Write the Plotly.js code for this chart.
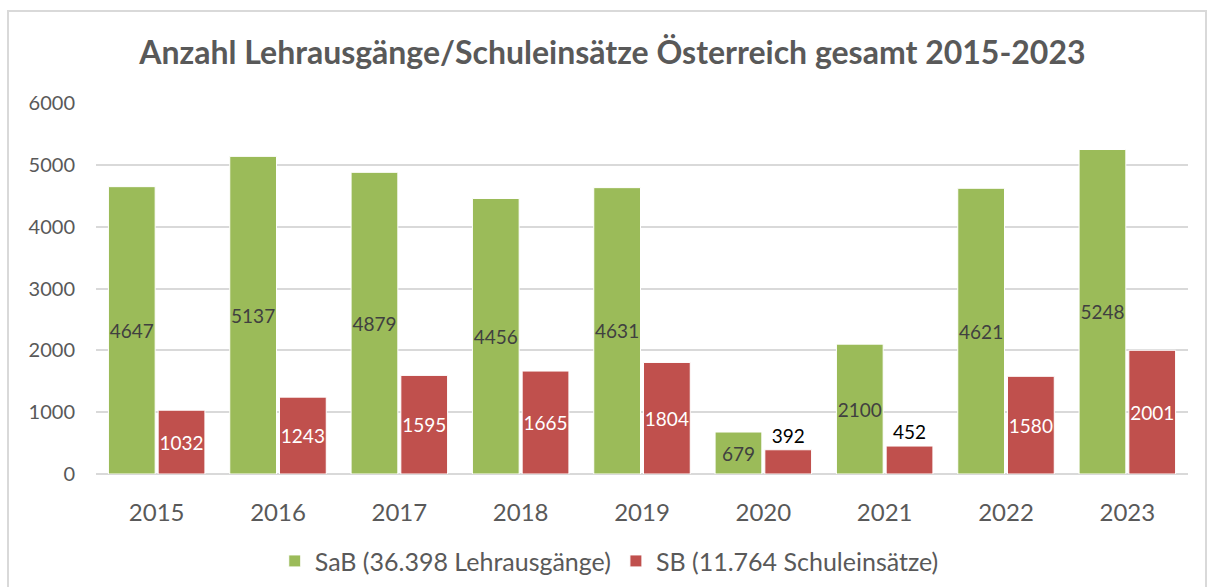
<!DOCTYPE html>
<html>
<head>
<meta charset="utf-8">
<script src="https://cdn.plot.ly/plotly-3.0.1.min.js"></script>
<style>
html,body{margin:0;padding:0;background:#fff;}
#wrap{position:relative;width:1208px;height:587px;}
#chart{position:absolute;left:0;top:0;width:1208px;height:587px;}
#frame{position:absolute;left:7px;top:10px;width:1200px;height:590px;border:2px solid #d9d9d9;box-sizing:border-box;pointer-events:none;}
</style>
</head>
<body>
<div id="wrap"><div id="chart"></div><div id="frame"></div></div>
<script>
const years = ['2015','2016','2017','2018','2019','2020','2021','2022','2023'];
const sab = [4647,5137,4879,4456,4631,679,2100,4621,5248];
const sb = [1032,1243,1595,1665,1804,392,452,1580,2001];
const sabName = 'SaB (36.398 Lehrausgänge)';
const sbName = 'SB (11.764 Schuleinsätze)';
const titleText = 'Anzahl Lehrausgänge/Schuleinsätze Österreich gesamt 2015-2023';

const FONT = 'Lato, "Open Sans", sans-serif';
const sbPos = sb.map(v => v < 600 ? 'outside' : 'inside');

const traces = [
  {type:'bar', name:sabName, x:years, y:sab, text:sab.map(String),
   textposition:'inside', insidetextanchor:'middle', textangle:0, constraintext:'none',
   insidetextfont:{family:FONT,size:19,color:'#404040'},
   marker:{color:'#9bbb59', line:{color:'#ffffff',width:1}}, hoverinfo:'none', cliponaxis:false},
  {type:'bar', name:sbName, x:years, y:sb, text:sb.map(String),
   textposition:sbPos, insidetextanchor:'middle', textangle:0, constraintext:'none',
   insidetextfont:{family:FONT,size:19,color:'#ffffff'},
   outsidetextfont:{family:FONT,size:19,color:'#000000'},
   marker:{color:'#c0504d', line:{color:'#ffffff',width:1}}, hoverinfo:'none', cliponaxis:false}
];

const layout = {
  width:1208, height:587,
  margin:{l:96, r:20, t:103, b:113},
  paper_bgcolor:'#ffffff', plot_bgcolor:'#ffffff',
  font:{family:FONT, color:'#595959'},
  title:{text:'<b>'+titleText+'</b>', x:0.507, xanchor:'center', y:0.91, yanchor:'middle',
         font:{family:FONT, size:32, color:'#595959'}},
  barmode:'group', bargap:0.18, bargroupgap:0.06,
  xaxis:{type:'category', tickfont:{family:FONT,size:24,color:'#595959'}, showgrid:false,
         showline:false, ticks:'', ticklabelstandoff:22},
  yaxis:{range:[0,6000], dtick:1000, tickfont:{family:FONT,size:20,color:'#595959'},
         gridcolor:'#d9d9d9', gridwidth:2, zeroline:true, zerolinecolor:'#d9d9d9', zerolinewidth:2,
         showline:false, ticks:'', ticklabelstandoff:20},
  showlegend:true,
  legend:{orientation:'h', x:0.47, xanchor:'center', yref:'container', y:0.044, yanchor:'middle',
          font:{family:FONT,size:25,color:'#595959'}, itemwidth:30, traceorder:'normal'}
};

Plotly.newPlot('chart', traces, layout, {displayModeBar:false, staticPlot:true});
</script>
</body>
</html>
